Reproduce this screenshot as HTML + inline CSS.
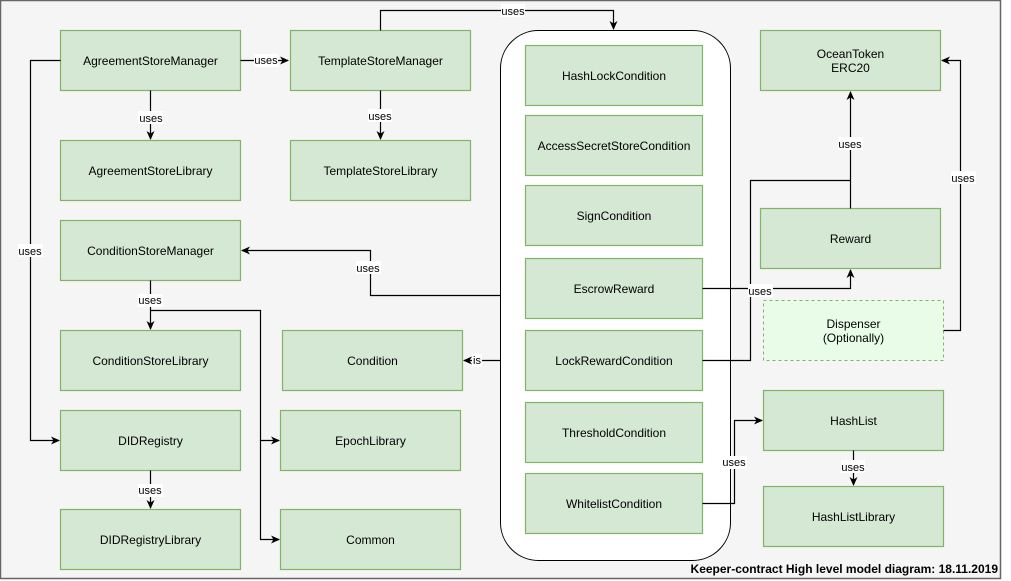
<!DOCTYPE html>
<html><head><meta charset="utf-8"><style>
html,body{margin:0;padding:0;background:#fff;}
svg{display:block;font-family:"Liberation Sans",Arial,sans-serif;}
</style></head><body>
<svg width="1011" height="581" viewBox="0 0 1011 581" xmlns="http://www.w3.org/2000/svg">
<defs>
<marker id="a" markerWidth="10" markerHeight="10" refX="8" refY="5" orient="auto" markerUnits="userSpaceOnUse">
<path d="M0,1 L9,5 L0,9 L2.5,5 Z" fill="#000"/>
</marker>
</defs>
<rect x="0.5" y="0.5" width="1000" height="578" fill="#f5f5f5" stroke="#666" stroke-width="1.5"/>
<rect x="500.5" y="30.5" width="230" height="530" rx="38" fill="#fff" stroke="#000"/>
<g fill="#d5e8d4" stroke="#82b366" stroke-width="1.2">
<rect x="60.5" y="30.5" width="180" height="60"/>
<rect x="290.5" y="30.5" width="180" height="60"/>
<rect x="60.5" y="140.5" width="180" height="60"/>
<rect x="290.5" y="140.5" width="180" height="60"/>
<rect x="60.5" y="220.5" width="180" height="60"/>
<rect x="60.5" y="330.5" width="180" height="60"/>
<rect x="60.5" y="410.5" width="180" height="60"/>
<rect x="60.5" y="509.5" width="180" height="60"/>
<rect x="282.5" y="330.5" width="180" height="60"/>
<rect x="280.5" y="410.5" width="180" height="60"/>
<rect x="280.5" y="509.5" width="180" height="60"/>
<rect x="525.5" y="45.5" width="177" height="60"/>
<rect x="525.5" y="115.5" width="177" height="60"/>
<rect x="525.5" y="185.5" width="177" height="60"/>
<rect x="525.5" y="258.5" width="177" height="60"/>
<rect x="525.5" y="330.5" width="177" height="60"/>
<rect x="525.5" y="402.5" width="177" height="60"/>
<rect x="525.5" y="473.5" width="177" height="60"/>
<rect x="760.5" y="30.5" width="180" height="60"/>
<rect x="760.5" y="208.5" width="180" height="60"/>
<rect x="763.5" y="390.5" width="180" height="60"/>
<rect x="763.5" y="486.5" width="180" height="60"/>
</g>
<rect x="763.5" y="300.5" width="180" height="60" fill="#e8fce8" stroke="#82b366" stroke-dasharray="3,3"/>
<g fill="none" stroke="#000" stroke-width="1.2">
<path d="M240.5,60.5 H288" marker-end="url(#a)"/>
<path d="M150.5,90.5 V139" marker-end="url(#a)"/>
<path d="M380.5,90.5 V139" marker-end="url(#a)"/>
<path d="M380.5,30.5 V10.5 H613.5 V29" marker-end="url(#a)"/>
<path d="M60.5,60.5 H30.5 V440.5 H59" marker-end="url(#a)"/>
<path d="M150.5,280.5 V329" marker-end="url(#a)"/>
<path d="M150.5,470.5 V508" marker-end="url(#a)"/>
<path d="M150.5,310.5 H260.5 V440.5 H279" marker-end="url(#a)"/>
<path d="M260.5,440.5 V539.5 H279" marker-end="url(#a)"/>
<path d="M500.5,295.5 H370.5 V250.5 H242" marker-end="url(#a)"/>
<path d="M500.5,360.5 H464" marker-end="url(#a)"/>
<path d="M702.5,288.5 H850.5 V270" marker-end="url(#a)"/>
<path d="M702.5,360.5 H750.5 V180.5 H850.5 V92" marker-end="url(#a)"/>
<path d="M850.5,208.5 V180.5"/>
<path d="M943.5,330.5 H960.5 V60.5 H942" marker-end="url(#a)"/>
<path d="M702.5,503.5 H734.5 V420.5 H762" marker-end="url(#a)"/>
<path d="M853.5,450.5 V485" marker-end="url(#a)"/>
</g>
<g font-size="11" text-anchor="middle" fill="#000">
<g fill="#fff"><rect x="254" y="54" width="24" height="13"/><rect x="138" y="111" width="25" height="13"/><rect x="368" y="109" width="24" height="13"/><rect x="501" y="4" width="24" height="13"/><rect x="18" y="244" width="25" height="13"/><rect x="138" y="294" width="25" height="13"/><rect x="138" y="484" width="25" height="13"/><rect x="356" y="261" width="25" height="13"/><rect x="472" y="354" width="10" height="13"/><rect x="748" y="284" width="25" height="13"/><rect x="838" y="137" width="25" height="13"/><rect x="951" y="171" width="25" height="13"/><rect x="722" y="456" width="25" height="13"/><rect x="841" y="460" width="24" height="13"/></g>
<text x="266" y="64">uses</text><text x="151" y="122">uses</text><text x="380" y="120">uses</text><text x="513" y="15">uses</text><text x="30" y="255">uses</text><text x="150" y="304">uses</text><text x="150" y="494">uses</text><text x="368" y="272">uses</text><text x="477" y="364">is</text><text x="760" y="295">uses</text><text x="850" y="148">uses</text><text x="963" y="182">uses</text><text x="734" y="466">uses</text><text x="853" y="471">uses</text>
</g>
<g font-size="12" text-anchor="middle" fill="#000">
<text x="150.5" y="65">AgreementStoreManager</text>
<text x="380.5" y="65">TemplateStoreManager</text>
<text x="150.5" y="175">AgreementStoreLibrary</text>
<text x="380.5" y="175">TemplateStoreLibrary</text>
<text x="150.5" y="255">ConditionStoreManager</text>
<text x="150.5" y="365">ConditionStoreLibrary</text>
<text x="150.5" y="445">DIDRegistry</text>
<text x="150.5" y="544">DIDRegistryLibrary</text>
<text x="372.5" y="365">Condition</text>
<text x="370.5" y="445">EpochLibrary</text>
<text x="370.5" y="544">Common</text>
<text x="614" y="80">HashLockCondition</text>
<text x="614" y="150">AccessSecretStoreCondition</text>
<text x="614" y="220">SignCondition</text>
<text x="614" y="293">EscrowReward</text>
<text x="614" y="365">LockRewardCondition</text>
<text x="614" y="437">ThresholdCondition</text>
<text x="614" y="508">WhitelistCondition</text>
<text x="850.5" y="58">OceanToken</text>
<text x="850.5" y="72">ERC20</text>
<text x="850.5" y="243">Reward</text>
<text x="853.5" y="328">Dispenser</text>
<text x="853.5" y="342">(Optionally)</text>
<text x="853.5" y="425">HashList</text>
<text x="853.5" y="521">HashListLibrary</text>
</g>
<text x="998" y="573" font-size="12" font-weight="bold" text-anchor="end">Keeper-contract High level model diagram: 18.11.2019</text>
</svg>
</body></html>
